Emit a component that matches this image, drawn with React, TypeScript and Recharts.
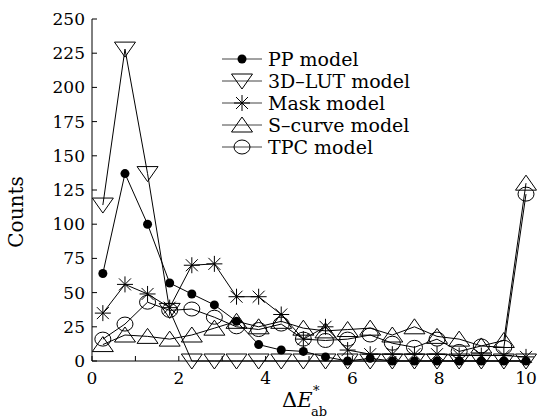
import { LineChart, Line, XAxis, YAxis, Legend } from 'recharts'

const FONT = '"DejaVu Serif", "Liberation Serif", serif'

// bin positions on the ΔE*ab axis
const deltaE = [0.25, 0.76, 1.28, 1.79, 2.3, 2.82, 3.33, 3.84, 4.36, 4.87, 5.38, 5.89, 6.41, 6.92, 7.43, 7.95, 8.46, 8.97, 9.49, 10]

const ppModel = [64, 137, 100, 57, 49, 41, 29, 12, 8, 7, 3, 0, 2, 0, 0, 0, 0, 0, 0, 0]
const lutModel = [114, 228, 137, 37, 0, 0, 0, 0, 0, 0, 0, 0, 0, 0, 0, 0, 0, 0, 0, 0]
const maskModel = [35, 56, 49, 39, 70, 71, 47, 47, 34, 16, 25, 8, 5, 5, 5, 5, 4, 4, 4, 3]
const sCurveModel = [12, 19, 18, 16, 19, 24, 29, 25, 29, 24, 22, 23, 24, 19, 25, 18, 16, 11, 15, 130]
const tpcModel = [16, 27, 43, 37, 38, 32, 25, 23, 27, 16, 15, 16, 19, 13, 10, 16, 7, 11, 10, 122]

const xTicks = [0, 1, 2, 3, 4, 5, 6, 7, 8, 9, 10]
const yTicks = [0, 25, 50, 75, 100, 125, 150, 175, 200, 225, 250]

type MarkerKind = 'dot' | 'down' | 'star' | 'up' | 'ring'

const series: { key: string; name: string; marker: MarkerKind; values: number[] }[] = [
  { key: 'pp', name: 'PP model', marker: 'dot', values: ppModel },
  { key: 'lut', name: '3D\u2013LUT model', marker: 'down', values: lutModel },
  { key: 'mask', name: 'Mask model', marker: 'star', values: maskModel },
  { key: 'scurve', name: 'S\u2013curve model', marker: 'up', values: sCurveModel },
  { key: 'tpc', name: 'TPC model', marker: 'ring', values: tpcModel },
]

const data = deltaE.map((x, i) => {
  const row: Record<string, number> = { x }
  series.forEach((s) => {
    row[s.key] = s.values[i]
  })
  return row
})

function Marker({ kind, cx, cy }: { kind: MarkerKind; cx: number; cy: number }) {
  const st = { stroke: '#000', strokeWidth: 1, fill: 'none' }
  switch (kind) {
    case 'dot':
      return <circle cx={cx} cy={cy} r={4.5} fill="#000" />
    case 'down':
      return <polygon points={`${cx - 10.5},${cy - 7} ${cx + 10.5},${cy - 7} ${cx},${cy + 8}`} {...st} />
    case 'up':
      return <polygon points={`${cx},${cy - 8} ${cx + 10.5},${cy + 7} ${cx - 10.5},${cy + 7}`} {...st} />
    case 'ring':
      return <ellipse cx={cx} cy={cy} rx={8} ry={7} {...st} />
    case 'star':
      return (
        <g {...st}>
          <line x1={cx} x2={cx} y1={cy - 8} y2={cy + 8} />
          <line x1={cx - 8} x2={cx + 8} y1={cy} y2={cy} />
          <line x1={cx - 6} x2={cx + 6} y1={cy - 6} y2={cy + 6} />
          <line x1={cx - 6} x2={cx + 6} y1={cy + 6} y2={cy - 6} />
        </g>
      )
  }
  return null
}

const XTick = (props: any) => {
  const { x, y, payload } = props
  const v = payload.value as number
  return (
    <g>
      <line x1={x} x2={x} y1={y} y2={y - 5} stroke="#000" />
      {v % 2 === 0 && (
        <text x={x} y={y + 23} textAnchor="middle" fontFamily={FONT} fontSize={17} fill="#000">
          {v}
        </text>
      )}
    </g>
  )
}

const YTick = (props: any) => {
  const { x, y, payload } = props
  return (
    <g>
      <line x1={x} x2={x + 5} y1={y} y2={y} stroke="#000" />
      <text x={x - 7} y={y + 6} textAnchor="end" fontFamily={FONT} fontSize={17} fill="#000">
        {payload.value}
      </text>
    </g>
  )
}

const XLabel = () => (
  <g fontFamily={FONT} fill="#000">
    <text x={282} y={407} fontSize={21}>
      {'\u0394'}
      <tspan fontStyle="italic">E</tspan>
    </text>
    <text x={313} y={395} fontSize={13}>*</text>
    <text x={311} y={416} fontSize={13}>ab</text>
  </g>
)

const YLabel = () => (
  <text
    x={16}
    y={212}
    transform="rotate(-90, 16, 212)"
    textAnchor="middle"
    dominantBaseline="central"
    fontFamily={FONT}
    fontSize={20}
    fill="#000"
  >
    Counts
  </text>
)

const LegendBox = () => (
  <div style={{ fontFamily: FONT, fontSize: 19, color: '#000' }}>
    {series.map((s) => (
      <div key={s.key} style={{ display: 'flex', alignItems: 'center', height: 22 }}>
        <svg width={40} height={22} style={{ overflow: 'visible' }}>
          <line x1={0} x2={40} y1={11} y2={11} stroke="#444" />
          <Marker kind={s.marker} cx={20} cy={11} />
        </svg>
        <span style={{ marginLeft: 6, whiteSpace: 'nowrap', lineHeight: '22px' }}>{s.name}</span>
      </div>
    ))}
  </div>
)

export default function App() {
  return (
    <div style={{ width: 537, height: 418, background: '#fff' }}>
      <style>{'body{margin:0}'}</style>
      <LineChart width={537} height={418} data={data} margin={{ top: 19, right: 11, left: 0, bottom: 0 }}>
        <XAxis
          dataKey="x"
          type="number"
          domain={[0, 10]}
          ticks={xTicks}
          interval={0}
          height={57}
          stroke="#000"
          tickLine={false}
          tickSize={0}
          tickMargin={0}
          tick={XTick}
          label={{ content: XLabel }}
        />
        <YAxis
          domain={[0, 250]}
          ticks={yTicks}
          interval={0}
          width={92}
          stroke="#000"
          tickLine={false}
          tickSize={0}
          tickMargin={0}
          tick={YTick}
          label={{ content: YLabel }}
        />
        <Legend
          layout="horizontal"
          verticalAlign="middle"
          align="center"
          content={LegendBox}
          wrapperStyle={{ position: 'absolute', top: 48, left: 222, width: 240, height: 'auto' }}
        />
        {series.map((s) => (
          <Line
            key={s.key}
            dataKey={s.key}
            name={s.name}
            type="linear"
            stroke="#000"
            strokeWidth={1}
            isAnimationActive={false}
            activeDot={false}
            dot={(p: any) => <Marker key={`${s.key}-${p.index}`} kind={s.marker} cx={p.cx} cy={p.cy} />}
          />
        ))}
      </LineChart>
    </div>
  )
}
